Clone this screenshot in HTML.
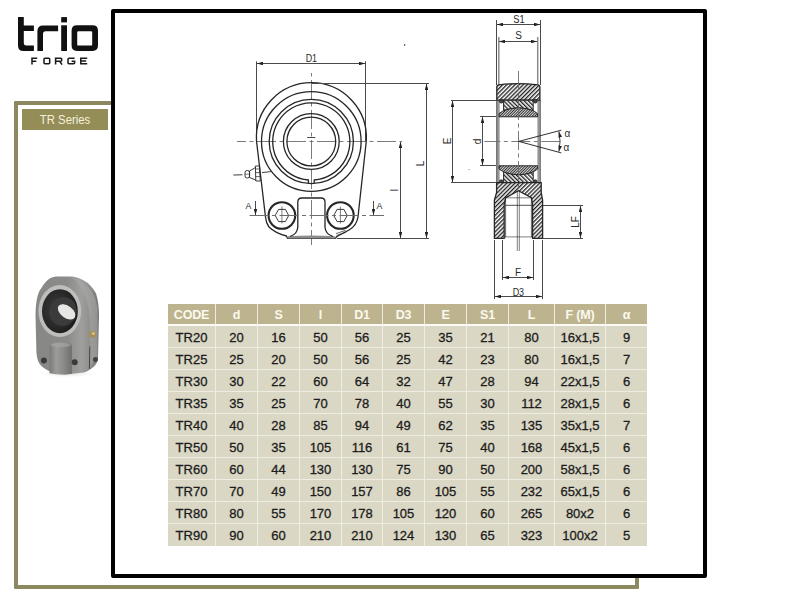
<!DOCTYPE html>
<html><head><meta charset="utf-8">
<style>
html,body{margin:0;padding:0;background:#fff;}
body{width:800px;height:600px;position:relative;overflow:hidden;font-family:"Liberation Sans",sans-serif;}
.abs{position:absolute;}
#olive{left:14px;top:101px;width:617px;height:480px;border:4px solid #8d895e;border-radius:1px;}
#tr{left:22px;top:109px;width:86px;height:21px;background:#958d58;color:#f4f1dc;font-size:13.5px;line-height:22px;text-align:center;}
#tr span{display:inline-block;transform:scaleX(0.84);transform-origin:50% 50%;white-space:nowrap;}
#blk{left:111px;top:9px;width:588px;height:561px;border:4px solid #000;border-radius:2px;background:#fff;}
#tbl{left:168px;top:304px;width:479px;height:242px;background:#efede2;}
.row{position:absolute;left:0;height:21px;}
.c{position:absolute;top:0;height:100%;text-align:center;color:#1c1c1c;font-size:13px;line-height:23.6px;-webkit-text-stroke:0.3px #1c1c1c;}
.h .c{background:#bdb48f;color:#fbf9ee;font-weight:bold;font-size:12.5px;line-height:22.6px;-webkit-text-stroke:0;letter-spacing:-0.2px;}
.b .c{background:#dad7c5;}
svg{position:absolute;left:0;top:0;}
</style></head><body>
<!-- logo -->
<svg width="800" height="600" style="z-index:1">
  <g fill="#111">
    <!-- t -->
    <path d="M18,17 h5.8 v8.4 h10.1 v5.6 h-10.1 v12.2 q0,2.4 2.4,2.4 h7.7 v5.4 h-10.4 q-5.5,0 -5.5,-5.5 z"/>
    <!-- r -->
    <path d="M37.4,51 v-20 q0,-5.6 5.6,-5.6 h15.1 v5.9 h-12.5 q-2.6,0 -2.6,2.6 v17.1 z"/>
    <!-- i -->
    <rect x="61.2" y="17.1" width="5.8" height="5.3"/>
    <rect x="61.2" y="25.3" width="5.8" height="25.7"/>
    <!-- o -->
    <path fill-rule="evenodd" d="M77,25.3 h15.6 q5.4,0 5.4,5.4 v14.9 q0,5.4 -5.4,5.4 h-15.6 q-5.4,0 -5.4,-5.4 v-14.9 q0,-5.4 5.4,-5.4 z M78.4,31.3 q-1.2,0 -1.2,1.2 v11.9 q0,1.2 1.2,1.2 h12.6 q1.2,0 1.2,-1.2 v-11.9 q0,-1.2 -1.2,-1.2 z"/>
  </g>
  <g fill="none" stroke="#1a1a1a" stroke-width="1.55">
    <path d="M32,64.6 V58.2 H37.2 M32,61.2 H36.3"/>
    <rect x="44" y="58.2" width="5.7" height="5.6" rx="1"/>
    <path d="M55.6,64.6 V58.2 H60.7 Q61.7,58.2 61.7,59.2 V60.2 Q61.7,61.2 60.7,61.2 H55.6 M59.6,61.2 L62.1,64.6"/>
    <path d="M74.6,58.2 H69 Q68,58.2 68,59.2 V62.8 Q68,63.8 69,63.8 H73.6 Q74.6,63.8 74.6,62.8 V61.2 H71.6"/>
    <path d="M87.2,58.2 H80.8 V63.8 H87.2 M80.8,61 H86.2"/>
  </g>
</svg>
<div id="olive" class="abs"></div>
<div id="tr" class="abs"><span>TR Series</span></div>
<div id="blk" class="abs"></div>
<!--PHOTO-->
<svg width="800" height="600" style="z-index:2">
<defs>
  <linearGradient id="pbody" x1="0" x2="1" y1="0" y2="0">
    <stop offset="0" stop-color="#878785"/><stop offset="0.5" stop-color="#8b8b89"/><stop offset="0.72" stop-color="#a09f9d"/><stop offset="0.86" stop-color="#8f8f8d"/><stop offset="1" stop-color="#737371"/>
  </linearGradient>
  <linearGradient id="pboss" x1="0" x2="1" y1="0" y2="0">
    <stop offset="0" stop-color="#7a7a78"/><stop offset="0.3" stop-color="#9c9c9a"/><stop offset="0.6" stop-color="#8c8c8a"/><stop offset="1" stop-color="#6f6f6d"/>
  </linearGradient>
  <radialGradient id="pdark" cx="0.4" cy="0.45" r="0.6">
    <stop offset="0" stop-color="#3c3c3c"/><stop offset="0.75" stop-color="#262626"/><stop offset="1" stop-color="#1c1c1c"/>
  </radialGradient>
  <radialGradient id="pshadow" cx="0.5" cy="0.5" r="0.5">
    <stop offset="0" stop-color="#cfcfcf" stop-opacity="0.7"/><stop offset="1" stop-color="#fff" stop-opacity="0"/>
  </radialGradient>
</defs>
<ellipse cx="67" cy="374" rx="36" ry="4" fill="url(#pshadow)"/>
<!-- body silhouette -->
<path d="M35.5,315 C35.8,300 38,292 41.1,288.5 C45,281 50,277 56,276.4 L71,276.4 C78,277 84,280 87.8,283 C92,287 95,291 96.2,294 C98,300 99,307 99,315 L98,357.6 C97.8,362 96,365 93.4,367 C90,370 87,371.8 84,372.6 L65.3,374.4 C58,374 52,372.5 48.5,370.7 C44,368.5 41,366 39.2,363.2 C37.5,360 36.6,356 36.4,352 Z" fill="url(#pbody)"/>
<!-- right side lighter curved band -->
<path d="M71,277 C84,280 95,290 97.5,308 L97.6,356 L90.5,366 L90,322 C89,300 83,286 71,277 Z" fill="#a9a9a7" opacity="0.55"/>
<!-- seam line right -->
<path d="M89.8,346.4 L89.4,368.8" stroke="#3e3e3e" stroke-width="0.9" fill="none"/>
<!-- front ring -->
<ellipse cx="59.8" cy="311" rx="21.4" ry="26" fill="#bebebc"/>
<ellipse cx="59.9" cy="311.2" rx="17.9" ry="22" fill="url(#pdark)"/>
<!-- ball -->
<ellipse cx="63" cy="311.5" rx="13.5" ry="14.5" transform="rotate(20 63 311.5)" fill="#3b3b3b"/>
<!-- hole -->
<ellipse cx="66.6" cy="311.8" rx="10" ry="6" transform="rotate(36 66.6 311.8)" fill="#e6e6e4"/>
<!-- boss cylinder -->
<path d="M49.5,346 Q49.5,342.6 60.7,342.6 Q71.9,342.6 71.9,346 L71.9,373.8 Q60.7,375.4 49.5,373.2 Z" fill="url(#pboss)"/>
<ellipse cx="60.7" cy="345" rx="10.2" ry="2.2" fill="#a5a5a3" opacity="0.7"/>
<!-- bolt holes -->
<circle cx="43.9" cy="360.4" r="3" fill="#3a3a3a"/>
<circle cx="74.7" cy="362.3" r="3" fill="#3a3a3a"/>
<circle cx="95.4" cy="359.5" r="2.5" fill="#444"/>
<!-- grease nipple -->
<circle cx="92.6" cy="334.3" r="3.4" fill="#a88f50"/>
<circle cx="93.4" cy="333.5" r="1.6" fill="#d6c28a"/>
</svg>
<!--/PHOTO-->
<!--DRAW-->
<svg width="800" height="600" style="z-index:2">
<defs>
  <pattern id="h1" patternUnits="userSpaceOnUse" width="2.9" height="2.9" patternTransform="rotate(45)">
    <rect width="2.9" height="2.9" fill="#fff"/><rect x="0" y="0" width="1.35" height="2.9" fill="#222"/>
  </pattern>
  <pattern id="h2" patternUnits="userSpaceOnUse" width="2.9" height="2.9" patternTransform="rotate(-45)">
    <rect width="2.9" height="2.9" fill="#fff"/><rect x="0" y="0" width="1.35" height="2.9" fill="#222"/>
  </pattern>
  <pattern id="h3" patternUnits="userSpaceOnUse" width="1.9" height="1.9" patternTransform="rotate(45)">
    <rect width="1.9" height="1.9" fill="#d8d8d8"/><rect x="0" y="0" width="0.95" height="1.9" fill="#333"/>
  </pattern>
  <linearGradient id="bandL" x1="0" x2="1" y1="0" y2="0"><stop offset="0" stop-color="#6e6e6e"/><stop offset="1" stop-color="#b0b0b0"/></linearGradient>
  <linearGradient id="bandR" x1="0" x2="1" y1="0" y2="0"><stop offset="0" stop-color="#a8a8a8"/><stop offset="1" stop-color="#7a7a7a"/></linearGradient>
  <marker id="ar" viewBox="0 0 10 6" refX="10" refY="3" markerWidth="6.5" markerHeight="3.6" orient="auto-start-reverse" markerUnits="userSpaceOnUse">
    <path d="M0,0 L10,3 L0,6 z" fill="#222"/>
  </marker>
</defs>
<g fill="none" stroke="#262626" stroke-width="1">
  <!-- ===== LEFT VIEW ===== -->
  <!-- D1 dimension -->
  <line stroke="#4a4a4a" x1="256.5" y1="61.3" x2="256.5" y2="141" stroke-width="1"/>
  <line stroke="#4a4a4a" x1="365.5" y1="61.3" x2="365.5" y2="141" stroke-width="1"/>
  <line stroke="#4a4a4a" x1="257" y1="63.5" x2="365" y2="63.5" stroke-width="1" marker-start="url(#ar)" marker-end="url(#ar)"/>
  <!-- centerlines -->
  <line stroke="#6c6c6c" x1="311.5" y1="73" x2="311.5" y2="245" stroke-width="0.9" stroke-dasharray="19 3.5 4 3.5" stroke-dashoffset="-7"/>
  <line stroke="#6c6c6c" x1="237" y1="141.5" x2="402" y2="141.5" stroke-width="0.9" stroke-dasharray="19 3.5 4 3.5" stroke-dashoffset="10"/>
  <line stroke="#4a4a4a" x1="307.2" y1="137.5" x2="315.3" y2="137.5" stroke-width="1"/>
  <!-- body outline -->
  <path d="M256.5,141 A55,55 0 1 1 366.3,141 L358,217 Q356.5,226 349,230 L336.5,236.8 L335.5,238.4 L287.5,238.4 L286.5,236 Q275,233 269,227 Q266,223 265.5,217 Z" stroke-width="1.3"/>
  <!-- bottom strip -->
  <path d="M288,236.2 Q311,234.6 335,236.2 L335.5,238.4 L287.5,238.4 Z" fill="#8c8c8c" stroke="none"/>
  <!-- rings -->
  <circle cx="311.3" cy="141.5" r="49.8" stroke-width="1.3"/>
  <circle cx="311.3" cy="141.5" r="42.1" stroke-width="1.3"/>
  <path d="M308.4,183.5 L308.4,180 A38.6,38.6 0 1 1 314.2,180 L314.2,183.5" stroke-width="1.3"/>
  <circle cx="311.3" cy="141.5" r="27.9" stroke-width="1.3"/>
  <circle cx="311.3" cy="141.5" r="24.4" stroke-width="1.3"/>
  <!-- slot -->
  <path d="M290,236.5 Q297.5,234 297.8,227 L297.8,202 Q297.8,198 301.8,198 L321,198 Q325,198 325,202 L325,227 Q325.3,234 333,236.5" stroke-width="1.3"/>
  <!-- bolts -->
  <circle cx="281.9" cy="215.5" r="13.3" stroke-width="2.1"/>
  <circle cx="340.4" cy="215.5" r="13.3" stroke-width="2.1"/>
  <path d="M275.2,215.5 L278.6,209.4 L285.4,209.4 L288.7,215.5 L285.4,221.6 L278.6,221.6 Z" stroke-width="0.9"/>
  <path d="M333.7,215.5 L337.1,209.4 L343.9,209.4 L347.2,215.5 L343.9,221.6 L337.1,221.6 Z" stroke-width="0.9"/>
  <line x1="281.9" y1="206.5" x2="281.9" y2="223.5" stroke-width="0.6"/>
  <line x1="340.4" y1="206.5" x2="340.4" y2="223.5" stroke-width="0.6"/>
  <line stroke="#6c6c6c" x1="249.5" y1="215.5" x2="384" y2="215.5" stroke-width="1" stroke-dasharray="19 3.5 4 3.5"/>
  <!-- thread mark bottom right -->
  <path d="M336,233.6 L345.5,230.4 M336.6,235.4 L346.2,232.2" stroke-width="0.7"/>
  <!-- A arrows -->
  <line stroke="#4a4a4a" x1="255.5" y1="201" x2="255.5" y2="215" stroke-width="1" marker-end="url(#ar)"/>
  <line stroke="#4a4a4a" x1="373.5" y1="201" x2="373.5" y2="215" stroke-width="1" marker-end="url(#ar)"/>
  <!-- grease nipple -->
  <path d="M255.4,166 L259.6,166 L260.3,181 L255.8,181 Z" stroke-width="0.9"/>
  <path d="M255.6,169 L260,169 M255.6,172.6 L260,172.6 M255.6,176.6 L260,176.6" stroke-width="0.7"/>
  <path d="M255.5,167.5 L249.5,171 L249.5,177.5 L255.6,180" stroke-width="0.9"/>
  <rect x="245" y="170.5" width="4.6" height="7.5" rx="2" stroke-width="0.9"/>
  <line x1="245" y1="174.2" x2="249.6" y2="174.2" stroke-width="0.6"/>
  <line x1="233.3" y1="175" x2="242.5" y2="174.8" stroke-width="0.9"/>
  <line x1="262" y1="172.6" x2="270.8" y2="171.6" stroke-width="0.9"/>
  <!-- L and l dims -->
  <line stroke="#4a4a4a" x1="312" y1="83.5" x2="429" y2="83.5" stroke-width="1"/>
  <line stroke="#4a4a4a" x1="337" y1="238.5" x2="429" y2="238.5" stroke-width="1"/>
  <line stroke="#4a4a4a" x1="426.5" y1="84" x2="426.5" y2="238" stroke-width="1" marker-start="url(#ar)" marker-end="url(#ar)"/>
  <line stroke="#4a4a4a" x1="400.5" y1="142" x2="400.5" y2="238" stroke-width="1" marker-start="url(#ar)" marker-end="url(#ar)"/>

  <!-- ===== SECTION VIEW ===== -->
  <!-- S1 / S -->
  <line stroke="#4a4a4a" x1="496.5" y1="20" x2="496.5" y2="85" stroke-width="1"/>
  <line stroke="#4a4a4a" x1="540.5" y1="20" x2="540.5" y2="85" stroke-width="1"/>
  <line stroke="#4a4a4a" x1="497" y1="24.5" x2="540" y2="24.5" stroke-width="1" marker-start="url(#ar)" marker-end="url(#ar)"/>
  <line x1="498.8" y1="37" x2="498.8" y2="85" stroke-width="1.5" stroke="#8a8a8a"/>
  <line x1="537.7" y1="37" x2="537.7" y2="85" stroke-width="1.5" stroke="#8a8a8a"/>
  <line stroke="#4a4a4a" x1="499" y1="41.5" x2="537" y2="41.5" stroke-width="1" marker-start="url(#ar)" marker-end="url(#ar)"/>
  <!-- bore bands -->
  <rect x="496" y="100" width="3.8" height="83" fill="url(#bandL)" stroke="none"/>
  <rect x="537.3" y="100" width="3.7" height="83" fill="url(#bandR)" stroke="none"/>
  <!-- housing top -->
  <path d="M496.8,100.2 L496.8,86.5 Q497,84.8 499,84.8 Q518.4,82.6 537.6,84.8 Q539.7,84.8 539.9,86.5 L539.9,100.2 Z" fill="url(#h1)" stroke-width="1.3"/>
  <!-- outer race top -->
  <path d="M503.6,100.2 L533.2,100.2 L533.2,110.8 Q518.4,104.9 503.6,110.8 Z" fill="url(#h2)" stroke-width="1"/>
  <!-- ball top -->
  <path d="M499,116.8 L499,113.6 Q505,108.5 518.4,107.8 Q532,108.5 537.6,113.6 L537.6,116.8 Z" fill="url(#h3)" stroke-width="1"/>
  <!-- seals -->
  <circle cx="501.3" cy="101.2" r="1.9" fill="#444" stroke-width="0.8"/>
  <circle cx="535.3" cy="101.2" r="1.9" fill="#444" stroke-width="0.8"/>
  <!-- outer race bottom -->
  <path d="M503.6,182.6 L533.2,182.6 L533.2,171.7 Q518.4,177.6 503.6,171.7 Z" fill="url(#h2)" stroke-width="1"/>
  <!-- ball bottom -->
  <path d="M499,165.8 L499,169 Q505,174.1 518.4,174.8 Q532,174.1 537.6,169 L537.6,165.8 Z" fill="url(#h3)" stroke-width="1"/>
  <circle cx="501.3" cy="181.7" r="1.9" fill="#444" stroke-width="0.8"/>
  <circle cx="535.3" cy="181.7" r="1.9" fill="#444" stroke-width="0.8"/>
  <!-- housing bottom + shank -->
  <path d="M496.6,182.6 L541.2,182.6 L541.2,192.5 L542.6,200 L542.6,238.3 L532.6,238.3 L532.6,204.2 L531.4,197.8 L518.4,190.8 L505.6,197.8 L504.2,204.2 L504.2,238.3 L494.4,238.3 L494.4,200 L496.6,192.5 Z" fill="url(#h1)" stroke-width="1.3"/>
  <!-- thread lines -->
  <line x1="505.6" y1="197.8" x2="505.6" y2="237.5" stroke-width="0.7"/>
  <line x1="531.4" y1="197.8" x2="531.4" y2="237.5" stroke-width="0.7"/>
  <line x1="505.6" y1="197.8" x2="531.4" y2="197.8" stroke-width="0.6"/>
  <line x1="505.2" y1="205.3" x2="531.8" y2="205.3" stroke-width="0.8"/>
  <line x1="505.2" y1="236.9" x2="531.8" y2="236.9" stroke-width="0.6"/>
  <!-- centerlines -->
  <line stroke="#6c6c6c" x1="518.5" y1="71" x2="518.5" y2="190" stroke-width="0.9" stroke-dasharray="19 3.5 4 3.5"/>
  <line x1="517.3" y1="191" x2="517.3" y2="251" stroke-width="0.6"/>
  <line x1="519.3" y1="191" x2="519.3" y2="251" stroke-width="0.6"/>
  <line stroke="#6c6c6c" x1="484.3" y1="141.5" x2="561" y2="141.5" stroke-width="0.9" stroke-dasharray="19 3.5 4 3.5" stroke-dashoffset="3"/>
  <!-- E dim -->
  <line stroke="#4a4a4a" x1="451" y1="100.5" x2="496" y2="100.5" stroke-width="1"/>
  <line stroke="#4a4a4a" x1="451" y1="182.5" x2="496" y2="182.5" stroke-width="1"/>
  <line stroke="#4a4a4a" x1="452.5" y1="101" x2="452.5" y2="182" stroke-width="1" marker-start="url(#ar)" marker-end="url(#ar)"/>
  <!-- d dim -->
  <line stroke="#4a4a4a" x1="480" y1="116.5" x2="496" y2="116.5" stroke-width="1"/>
  <line stroke="#4a4a4a" x1="480" y1="165.5" x2="496" y2="165.5" stroke-width="1"/>
  <line stroke="#4a4a4a" x1="482.5" y1="117" x2="482.5" y2="165" stroke-width="1" marker-start="url(#ar)" marker-end="url(#ar)"/>
  <!-- alpha -->
  <path d="M518.7,141.4 L561.3,130.2 M518.7,141.4 L561.3,152.9" stroke-width="0.95"/>
  <path d="M558.9,131.4 Q561.2,141.4 558.9,151.6" stroke-width="0.85" marker-start="url(#ar)" marker-end="url(#ar)"/>
  <!-- LF dim -->
  <line stroke="#4a4a4a" x1="543" y1="205.5" x2="583" y2="205.5" stroke-width="1"/>
  <line stroke="#4a4a4a" x1="543" y1="238.5" x2="583" y2="238.5" stroke-width="1"/>
  <line stroke="#4a4a4a" x1="580.5" y1="206" x2="580.5" y2="238" stroke-width="1" marker-start="url(#ar)" marker-end="url(#ar)"/>
  <!-- F dim -->
  <line stroke="#4a4a4a" x1="502.5" y1="240" x2="502.5" y2="280" stroke-width="1"/>
  <line stroke="#4a4a4a" x1="533.5" y1="240" x2="533.5" y2="280" stroke-width="1"/>
  <line stroke="#4a4a4a" x1="503" y1="277.5" x2="533" y2="277.5" stroke-width="1" marker-start="url(#ar)" marker-end="url(#ar)"/>
  <!-- D3 dim -->
  <line stroke="#4a4a4a" x1="494.5" y1="240" x2="494.5" y2="299" stroke-width="1"/>
  <line stroke="#4a4a4a" x1="542.5" y1="240" x2="542.5" y2="299" stroke-width="1"/>
  <line stroke="#4a4a4a" x1="495" y1="296.5" x2="542" y2="296.5" stroke-width="1" marker-start="url(#ar)" marker-end="url(#ar)"/>
</g>
<g font-family="Liberation Sans" fill="#2a2a2a" font-size="10" text-anchor="middle">
  <text x="311.4" y="62.2" textLength="11.4" lengthAdjust="spacingAndGlyphs">D1</text>
  <text x="248.4" y="208.7" font-size="8.8">A</text>
  <text x="379.4" y="208.7" font-size="8.8">A</text>
  <text transform="translate(424.4 163.4) rotate(-90)">L</text>
  <text transform="translate(398.3 190.2) rotate(-90)" dy="0">l</text>
  <text x="519" y="22.8" textLength="11.4" lengthAdjust="spacingAndGlyphs">S1</text>
  <text x="518.6" y="39.3">S</text>
  <text transform="translate(451.2 141) rotate(-90)">E</text>
  <text transform="translate(480.9 141.4) rotate(-90)">d</text>
  <text x="567.4" y="136.8">&#945;</text>
  <text x="566.4" y="150.8">&#945;</text>
  <text transform="translate(579 222) rotate(-90)">LF</text>
  <text x="518" y="276">F</text>
  <text x="518.4" y="295.6" textLength="11.4" lengthAdjust="spacingAndGlyphs">D3</text>
</g>
<rect x="404" y="44" width="1.2" height="2" fill="#666"/>
<rect x="468.2" y="169" width="2" height="0.8" fill="#bbb"/>
</svg>
<!--/DRAW-->
<div id="tbl" class="abs">
<div style="position:absolute;left:0;top:20px;width:479px;height:2px;background:#fbfaf4"></div>
<div class="row h" style="top:0;height:20px"><div class="c" style="left:0px;width:47px">CODE</div><div class="c" style="left:48px;width:41px">d</div><div class="c" style="left:90px;width:41px">S</div><div class="c" style="left:132px;width:41px">l</div><div class="c" style="left:174px;width:40px">D1</div><div class="c" style="left:215px;width:41px">D3</div><div class="c" style="left:257px;width:41px">E</div><div class="c" style="left:299px;width:41px">S1</div><div class="c" style="left:341px;width:45px">L</div><div class="c" style="left:387px;width:50px">F (M)</div><div class="c" style="left:438px;width:41px">&alpha;</div></div>
<div class="row b" style="top:22px"><div class="c" style="left:0px;width:47px">TR20</div><div class="c" style="left:48px;width:41px">20</div><div class="c" style="left:90px;width:41px">16</div><div class="c" style="left:132px;width:41px">50</div><div class="c" style="left:174px;width:40px">56</div><div class="c" style="left:215px;width:41px">25</div><div class="c" style="left:257px;width:41px">35</div><div class="c" style="left:299px;width:41px">21</div><div class="c" style="left:341px;width:45px">80</div><div class="c" style="left:387px;width:50px">16x1,5</div><div class="c" style="left:438px;width:41px">9</div></div>
<div class="row b" style="top:44px"><div class="c" style="left:0px;width:47px">TR25</div><div class="c" style="left:48px;width:41px">25</div><div class="c" style="left:90px;width:41px">20</div><div class="c" style="left:132px;width:41px">50</div><div class="c" style="left:174px;width:40px">56</div><div class="c" style="left:215px;width:41px">25</div><div class="c" style="left:257px;width:41px">42</div><div class="c" style="left:299px;width:41px">23</div><div class="c" style="left:341px;width:45px">80</div><div class="c" style="left:387px;width:50px">16x1,5</div><div class="c" style="left:438px;width:41px">7</div></div>
<div class="row b" style="top:66px"><div class="c" style="left:0px;width:47px">TR30</div><div class="c" style="left:48px;width:41px">30</div><div class="c" style="left:90px;width:41px">22</div><div class="c" style="left:132px;width:41px">60</div><div class="c" style="left:174px;width:40px">64</div><div class="c" style="left:215px;width:41px">32</div><div class="c" style="left:257px;width:41px">47</div><div class="c" style="left:299px;width:41px">28</div><div class="c" style="left:341px;width:45px">94</div><div class="c" style="left:387px;width:50px">22x1,5</div><div class="c" style="left:438px;width:41px">6</div></div>
<div class="row b" style="top:88px"><div class="c" style="left:0px;width:47px">TR35</div><div class="c" style="left:48px;width:41px">35</div><div class="c" style="left:90px;width:41px">25</div><div class="c" style="left:132px;width:41px">70</div><div class="c" style="left:174px;width:40px">78</div><div class="c" style="left:215px;width:41px">40</div><div class="c" style="left:257px;width:41px">55</div><div class="c" style="left:299px;width:41px">30</div><div class="c" style="left:341px;width:45px">112</div><div class="c" style="left:387px;width:50px">28x1,5</div><div class="c" style="left:438px;width:41px">6</div></div>
<div class="row b" style="top:110px"><div class="c" style="left:0px;width:47px">TR40</div><div class="c" style="left:48px;width:41px">40</div><div class="c" style="left:90px;width:41px">28</div><div class="c" style="left:132px;width:41px">85</div><div class="c" style="left:174px;width:40px">94</div><div class="c" style="left:215px;width:41px">49</div><div class="c" style="left:257px;width:41px">62</div><div class="c" style="left:299px;width:41px">35</div><div class="c" style="left:341px;width:45px">135</div><div class="c" style="left:387px;width:50px">35x1,5</div><div class="c" style="left:438px;width:41px">7</div></div>
<div class="row b" style="top:132px"><div class="c" style="left:0px;width:47px">TR50</div><div class="c" style="left:48px;width:41px">50</div><div class="c" style="left:90px;width:41px">35</div><div class="c" style="left:132px;width:41px">105</div><div class="c" style="left:174px;width:40px">116</div><div class="c" style="left:215px;width:41px">61</div><div class="c" style="left:257px;width:41px">75</div><div class="c" style="left:299px;width:41px">40</div><div class="c" style="left:341px;width:45px">168</div><div class="c" style="left:387px;width:50px">45x1,5</div><div class="c" style="left:438px;width:41px">6</div></div>
<div class="row b" style="top:154px"><div class="c" style="left:0px;width:47px">TR60</div><div class="c" style="left:48px;width:41px">60</div><div class="c" style="left:90px;width:41px">44</div><div class="c" style="left:132px;width:41px">130</div><div class="c" style="left:174px;width:40px">130</div><div class="c" style="left:215px;width:41px">75</div><div class="c" style="left:257px;width:41px">90</div><div class="c" style="left:299px;width:41px">50</div><div class="c" style="left:341px;width:45px">200</div><div class="c" style="left:387px;width:50px">58x1,5</div><div class="c" style="left:438px;width:41px">6</div></div>
<div class="row b" style="top:176px"><div class="c" style="left:0px;width:47px">TR70</div><div class="c" style="left:48px;width:41px">70</div><div class="c" style="left:90px;width:41px">49</div><div class="c" style="left:132px;width:41px">150</div><div class="c" style="left:174px;width:40px">157</div><div class="c" style="left:215px;width:41px">86</div><div class="c" style="left:257px;width:41px">105</div><div class="c" style="left:299px;width:41px">55</div><div class="c" style="left:341px;width:45px">232</div><div class="c" style="left:387px;width:50px">65x1,5</div><div class="c" style="left:438px;width:41px">6</div></div>
<div class="row b" style="top:198px"><div class="c" style="left:0px;width:47px">TR80</div><div class="c" style="left:48px;width:41px">80</div><div class="c" style="left:90px;width:41px">55</div><div class="c" style="left:132px;width:41px">170</div><div class="c" style="left:174px;width:40px">178</div><div class="c" style="left:215px;width:41px">105</div><div class="c" style="left:257px;width:41px">120</div><div class="c" style="left:299px;width:41px">60</div><div class="c" style="left:341px;width:45px">265</div><div class="c" style="left:387px;width:50px">80x2</div><div class="c" style="left:438px;width:41px">6</div></div>
<div class="row b" style="top:220px;height:22px"><div class="c" style="left:0px;width:47px">TR90</div><div class="c" style="left:48px;width:41px">90</div><div class="c" style="left:90px;width:41px">60</div><div class="c" style="left:132px;width:41px">210</div><div class="c" style="left:174px;width:40px">210</div><div class="c" style="left:215px;width:41px">124</div><div class="c" style="left:257px;width:41px">130</div><div class="c" style="left:299px;width:41px">65</div><div class="c" style="left:341px;width:45px">323</div><div class="c" style="left:387px;width:50px">100x2</div><div class="c" style="left:438px;width:41px">5</div></div>
</div>
</body></html>
